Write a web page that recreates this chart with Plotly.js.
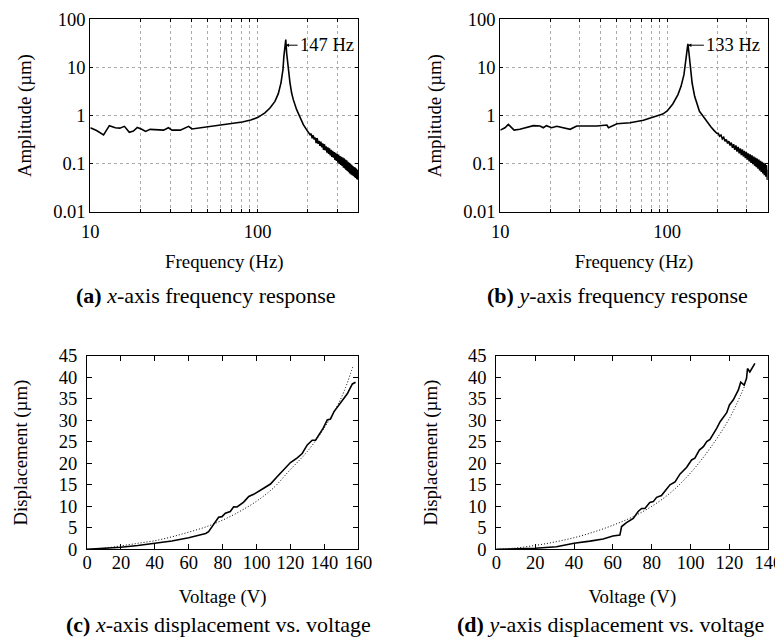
<!DOCTYPE html>
<html>
<head>
<meta charset="utf-8">
<script src="https://cdn.plot.ly/plotly-3.0.1.min.js"></script>
<style>html,body{margin:0;padding:0;background:#fff;}#chart{width:775px;height:638px;}</style>
</head>
<body>
<div id="chart"></div>
<script>
// (a) x-axis frequency response
const freqA = [10,10.9,12.0,13.0,14.1,15.0,16.0,17.1,18.1,19.1,20.3,21.4,22.8,25.0,27.4,29.3,30.8,34.5,38.7,40.5,45.5,51,57,64,72,81,91,100,110.6,118.6,127,133,138,141.8,143.6,146.4,147.4,149.2,152.6,156.2,159.8,163.5,171.2,179.3,187.7,197,203,206,209,212,215,218,221,224,227,230,233,236,239,242,245,248,251,254,257,260,263,266,269,272,275,278,281,284,287,290,293,296,299,302,305,308,311,314,317,320,323,326,329,332,335,338,341,344,347,350,353,356,359,362,365,368,371,374,377,380,383,386,389,392,395,398,400];
const ampA  = [0.56,0.49,0.40,0.62,0.56,0.55,0.60,0.45,0.48,0.57,0.52,0.47,0.52,0.51,0.50,0.56,0.50,0.50,0.60,0.53,0.56,0.58,0.61,0.64,0.68,0.74,0.81,0.91,1.14,1.44,1.98,2.86,4.8,9.0,17,32,37.8,20,9.0,4.8,2.95,2.15,1.33,0.89,0.65,0.50,0.44,0.40,0.42,0.34,0.39,0.32,0.35,0.27,0.34,0.26,0.30,0.235,0.29,0.22,0.265,0.195,0.255,0.19,0.23,0.17,0.22,0.16,0.21,0.15,0.195,0.14,0.185,0.135,0.175,0.12,0.17,0.115,0.16,0.105,0.155,0.10,0.145,0.095,0.14,0.09,0.135,0.083,0.13,0.08,0.122,0.075,0.118,0.071,0.11,0.067,0.105,0.063,0.10,0.06,0.095,0.058,0.09,0.056,0.086,0.053,0.084,0.051,0.08,0.048,0.075,0.047,0.07,0.049,0.062];

// (b) y-axis frequency response
const freqB = [10,10.66,11.17,12.1,13.1,14.4,15.8,17.3,18.1,18.9,20.3,21.8,23.9,26.2,28.7,33,37.9,43.5,44.5,50,60,72,80,87,94,100,108,116,121,126,129,131,133,135,137.4,141,146,151,156,160,167,175,183,190,194,198,202,206,210,214,218,222,226,230,234,238,242,246,250,254,258,262,266,270,274,278,282,286,290,294,298,302,306,310,314,318,322,326,330,334,338,342,346,350,354,358,362,366,370,374,378,382,386,390,394,398,400];
const ampB  = [0.50,0.56,0.66,0.50,0.52,0.56,0.62,0.61,0.56,0.62,0.56,0.60,0.55,0.52,0.61,0.60,0.61,0.64,0.56,0.68,0.71,0.80,0.89,0.97,1.08,1.25,1.75,2.73,4.06,7.1,12.3,21.5,31,20,10.5,4.76,2.52,1.65,1.23,1.1,0.88,0.72,0.58,0.50,0.47,0.43,0.43,0.375,0.395,0.33,0.355,0.295,0.32,0.265,0.295,0.24,0.275,0.215,0.255,0.195,0.24,0.18,0.225,0.165,0.21,0.152,0.2,0.142,0.185,0.132,0.175,0.122,0.165,0.112,0.158,0.105,0.15,0.098,0.142,0.091,0.135,0.085,0.128,0.079,0.122,0.073,0.116,0.068,0.11,0.063,0.105,0.058,0.1,0.054,0.094,0.046,0.075];

// (c) x-axis displacement vs. voltage
const voltC = [0,10,20,30,40,50,60,70,71.7,74.7,77.6,79.6,81.6,84.5,86.5,88.5,92.4,95.4,98.3,104.2,108.2,112.1,116,120,124,126.9,129.9,132.8,134.8,136.7,139.3,141.7,143.6,145.6,149.6,153.5,156.5,158.4];
const dispC = [0,0.15,0.47,0.9,1.4,1.94,2.7,3.7,4.1,5.7,7.45,7.6,8.4,8.8,9.9,9.85,11,12.3,12.8,14.2,15.2,16.9,18.5,20.2,21.3,22.3,24.3,25.4,25.4,26.6,28.2,30.1,30.3,32,34.1,36.2,38.5,38.9];
const fitVoltC = [0,10,20,30,40,50,60,70,80,90,100,110,120,130,140,150,157];
const fitDispC = [0,0.25,0.8,1.4,2.0,2.9,4.0,5.2,6.8,8.8,11.2,14.3,18.6,22.8,28.3,35.3,42.8];

// (d) y-axis displacement vs. voltage
const voltD = [0,10,20,31,40,48.2,55,60,63.6,64.5,67,70.5,73,74.8,76.5,79,80.8,82.5,85,89.4,92,94.5,98,100.5,102.2,104.5,106.6,108.3,110,113.5,115.2,118.6,120,122,124.6,125.8,127.6,128.8,129.3,130.5,133.1];
const dispD = [0,0.08,0.23,0.6,1.4,1.9,2.4,3.1,3.3,5.3,6.2,7.2,8.8,9.5,9.5,10.9,11.1,12.1,12.5,15.0,15.7,17.5,19.1,20.8,21.2,23.1,23.9,25.1,25.6,28.2,29.7,31.8,33.6,34.8,37.1,38.9,38.2,39.8,42.1,41.3,43.3];
const fitVoltD = [0,10,20,30,40,50,60,70,80,90,100,110,120,128];
const fitDispD = [0,0.3,0.9,1.7,2.7,4.0,5.6,7.5,10.0,13.3,17.8,23.5,30.5,38.2];

// tick labels
const freqTickVals = [10,20,30,40,50,60,70,80,90,100,200,300,400];
const freqTickText = ['10','','','','','','','','','100','','',''];
const ampTickVals = [0.01,0.1,1,10,100];
const ampTickText = ['0.01','0.1','1','10','100'];
const dispTickVals = [0,5,10,15,20,25,30,35,40,45];
const voltTickValsC = [0,20,40,60,80,100,120,140,160];
const voltTickValsD = [0,20,40,60,80,100,120,140];

const W = 775, H = 638;
const FONT = 'Liberation Serif';
const fx = (a,b) => [a/W, b/W];
const fy = (top,bottom) => [1-bottom/H, 1-top/H];

const tickFont = {family: FONT, size: 18.5, color: '#000'};
const titleFont = {family: FONT, size: 18.8, color: '#000'};

function freqX(dom, anchor) {
  return {domain: dom, anchor: anchor, type: 'log', range: [1, Math.log10(400)],
    tickvals: freqTickVals, ticktext: freqTickText, ticks: 'inside', ticklen: 3, tickcolor: '#000',
    showline: true, linecolor: '#000', linewidth: 1, mirror: 'allticks',
    showgrid: true, gridcolor: '#aaa', griddash: 'dot', gridwidth: 1,
    zeroline: false, tickfont: tickFont, ticklabeloverflow: 'allow', ticklabelstandoff: 3,
    title: {text: 'Frequency (Hz)', font: titleFont, standoff: 13}};
}
function ampY(dom, anchor) {
  return {domain: dom, anchor: anchor, type: 'log', range: [-2, 2],
    tickvals: ampTickVals, ticktext: ampTickText, ticks: 'inside', ticklen: 3, tickcolor: '#000',
    showline: true, linecolor: '#000', linewidth: 1, mirror: 'allticks',
    showgrid: true, gridcolor: '#aaa', griddash: 'dot', gridwidth: 1,
    zeroline: false, tickfont: tickFont, ticklabeloverflow: 'allow',
    title: {text: 'Amplitude (µm)', font: titleFont, standoff: 16}};
}
function voltX(dom, anchor, range, vals) {
  return {domain: dom, anchor: anchor, range: range, tickvals: vals,
    ticks: 'inside', ticklen: 5, tickcolor: '#000',
    showline: true, linecolor: '#000', linewidth: 1, mirror: 'allticks',
    showgrid: false, zeroline: false, tickfont: tickFont, ticklabeloverflow: 'allow', ticklabelstandoff: -4,
    title: {text: 'Voltage (V)', font: titleFont, standoff: 18}};
}
function dispY(dom, anchor, so) {
  return {domain: dom, anchor: anchor, range: [0, 45], tickvals: dispTickVals,
    ticks: 'inside', ticklen: 5, tickcolor: '#000',
    showline: true, linecolor: '#000', linewidth: 1, mirror: 'allticks',
    showgrid: false, zeroline: false, tickfont: tickFont, ticklabeloverflow: 'allow', ticklabelstandoff: 5,
    title: {text: 'Displacement (µm)', font: titleFont, standoff: so}};
}

const solid = {color: '#000', width: 1.6};
const dotted = {color: '#000', width: 1, dash: '1px,2px', shape: 'spline'};

const traces = [
  {x: freqA, y: ampA, xaxis: 'x', yaxis: 'y', mode: 'lines', line: solid, name: 'x-axis response'},
  {x: freqB, y: ampB, xaxis: 'x2', yaxis: 'y2', mode: 'lines', line: solid, name: 'y-axis response'},
  {x: fitVoltC, y: fitDispC, xaxis: 'x3', yaxis: 'y3', mode: 'lines', line: dotted, name: 'fit'},
  {x: voltC, y: dispC, xaxis: 'x3', yaxis: 'y3', mode: 'lines', line: solid, name: 'measured'},
  {x: fitVoltD, y: fitDispD, xaxis: 'x4', yaxis: 'y4', mode: 'lines', line: dotted, name: 'fit'},
  {x: voltD, y: dispD, xaxis: 'x4', yaxis: 'y4', mode: 'lines', line: solid, name: 'measured'}
];

const capFont = {family: FONT, size: 22, color: '#000'};
const layout = {
  width: W, height: H, margin: {l: 0, r: 0, t: 0, b: 0},
  paper_bgcolor: '#fff', plot_bgcolor: '#fff', showlegend: false,
  font: {family: FONT, color: '#000'},
  xaxis: freqX(fx(90.3, 358.3), 'y'),
  yaxis: ampY(fy(19.3, 212), 'x'),
  xaxis2: freqX(fx(500.3, 767.7), 'y2'),
  yaxis2: ampY(fy(19.3, 212), 'x2'),
  xaxis3: voltX(fx(87, 358.3), 'y3', [0, 160], voltTickValsC),
  yaxis3: dispY(fy(356, 549.3), 'x3', 26),
  xaxis4: voltX(fx(496.3, 768.3), 'y4', [0, 140], voltTickValsD),
  yaxis4: dispY(fy(356, 549.3), 'x4', 25),
  annotations: [
    {xref: 'x', yref: 'y', x: Math.log10(147), y: Math.log10(29), text: '147 Hz', showarrow: true,
     ax: 12, ay: 0, xanchor: 'left', arrowhead: 2, arrowsize: 0.7, arrowwidth: 1, arrowcolor: '#000',
     font: {family: FONT, size: 18.5, color: '#000'}},
    {xref: 'x2', yref: 'y2', x: Math.log10(133), y: Math.log10(29), text: '133 Hz', showarrow: true,
     ax: 16, ay: 0, xanchor: 'left', arrowhead: 2, arrowsize: 0.7, arrowwidth: 1, arrowcolor: '#000',
     font: {family: FONT, size: 18.5, color: '#000'}},
    {xref: 'paper', yref: 'paper', x: 206/W, y: 1-295/H, text: '<b>(a)</b> <i>x</i>-axis frequency response', showarrow: false, font: capFont, xanchor: 'center', yanchor: 'middle'},
    {xref: 'paper', yref: 'paper', x: 617.7/W, y: 1-295/H, text: '<b>(b)</b> <i>y</i>-axis frequency response', showarrow: false, font: capFont, xanchor: 'center', yanchor: 'middle'},
    {xref: 'paper', yref: 'paper', x: 218.3/W, y: 1-624/H, text: '<b>(c)</b> <i>x</i>-axis displacement vs. voltage', showarrow: false, font: capFont, xanchor: 'center', yanchor: 'middle'},
    {xref: 'paper', yref: 'paper', x: 610/W, y: 1-624/H, text: '<b>(d)</b> <i>y</i>-axis displacement vs. voltage', showarrow: false, font: capFont, xanchor: 'center', yanchor: 'middle'}
  ]
};

Plotly.newPlot('chart', traces, layout, {displayModeBar: false, staticPlot: true});
</script>
</body>
</html>
